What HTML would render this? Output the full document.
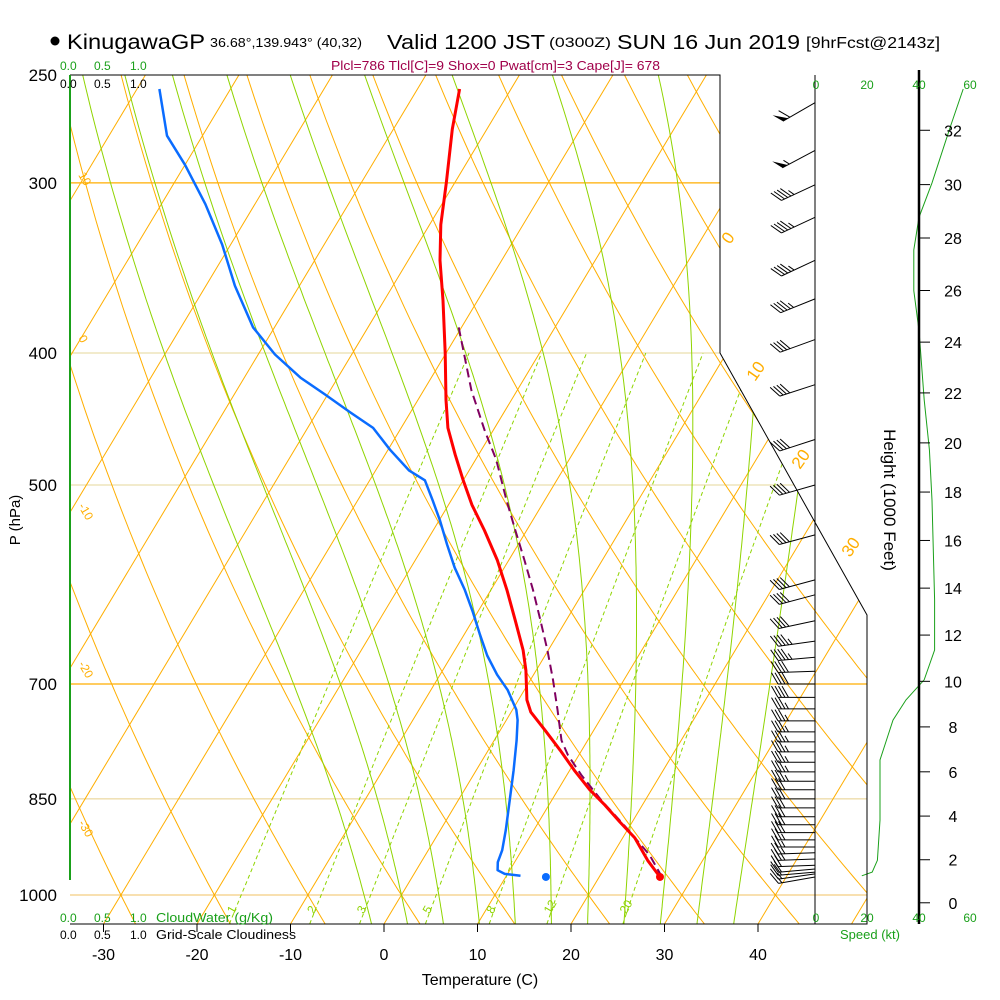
<!DOCTYPE html>
<html><head><meta charset="utf-8">
<style>
html,body{margin:0;padding:0;background:#fff;}
svg{display:block;font-family:"Liberation Sans",sans-serif;}
</style></head>
<body>
<svg id="chart" width="1000" height="1000" viewBox="0 0 1000 1000" xmlns="http://www.w3.org/2000/svg">
<defs><clipPath id="plotclip"><polygon points="70,75 720,75 720,353 867,615 867,924 70,924"/></clipPath></defs>
<g id="bg" clip-path="url(#plotclip)"></g>
<g id="marks"></g>
<g id="axes"></g>
<g>
<circle cx="55" cy="41" r="4.5" fill="#000"/>
<text x="67" y="49" font-size="21" textLength="138" lengthAdjust="spacingAndGlyphs">KinugawaGP</text>
<text x="210" y="47" font-size="13" textLength="152" lengthAdjust="spacingAndGlyphs">36.68°,139.943° (40,32)</text>
<text x="387" y="49" font-size="20" textLength="158" lengthAdjust="spacingAndGlyphs">Valid 1200 JST</text>
<text x="549" y="47" font-size="14" textLength="62" lengthAdjust="spacingAndGlyphs">(0300Z)</text>
<text x="617" y="49" font-size="20" textLength="183" lengthAdjust="spacingAndGlyphs">SUN 16 Jun 2019</text>
<text x="806" y="48" font-size="16" textLength="134" lengthAdjust="spacingAndGlyphs">[9hrFcst@2143z]</text>
<text x="331" y="70" font-size="13" fill="#a0004a" textLength="329" lengthAdjust="spacingAndGlyphs">Plcl=786 Tlcl[C]=9 Shox=0 Pwat[cm]=3 Cape[J]= 678</text>
</g>
<g font-size="12">
<text x="60" y="70" fill="#1aa01a">0.0</text><text x="94" y="70" fill="#1aa01a">0.5</text><text x="130" y="70" fill="#1aa01a">1.0</text>
<text x="60" y="88" fill="#000">0.0</text><text x="94" y="88" fill="#000">0.5</text><text x="130" y="88" fill="#000">1.0</text>
<text x="60" y="922" fill="#1aa01a">0.0</text><text x="94" y="922" fill="#1aa01a">0.5</text><text x="130" y="922" fill="#1aa01a">1.0</text>
<text x="156" y="922" fill="#1aa01a" font-size="13" textLength="117" lengthAdjust="spacingAndGlyphs">CloudWater (g/Kg)</text>
<text x="60" y="939" fill="#000">0.0</text><text x="94" y="939" fill="#000">0.5</text><text x="130" y="939" fill="#000">1.0</text>
<text x="156" y="939" fill="#000" font-size="13" textLength="140" lengthAdjust="spacingAndGlyphs">Grid-Scale Cloudiness</text>
</g>
<g font-size="12" fill="#1aa01a" text-anchor="middle">
<text x="816" y="89">0</text><text x="867" y="89">20</text><text x="919" y="89">40</text><text x="970" y="89">60</text>
<text x="816" y="922">0</text><text x="867" y="922">20</text><text x="919" y="922">40</text><text x="970" y="922">60</text>
<text x="870" y="939" font-size="13">Speed (kt)</text>
</g>
<text x="480" y="985" font-size="16" text-anchor="middle">Temperature (C)</text>
<text transform="translate(20,520) rotate(-90)" font-size="15" text-anchor="middle">P (hPa)</text>
<text transform="translate(884,500) rotate(90)" font-size="17" text-anchor="middle">Height (1000 Feet)</text>
<script>
// ---------- data ----------
const tempP = [256,274,300,322,342,366,400,433,454,475,496,517,540,568,597,628,661,684,719,734,757,783,810,837,859,884,908,943,970];
const tempT = [-45.5,-43.7,-40.9,-38.8,-36.6,-33.7,-30.1,-27.0,-25.0,-22.5,-20.0,-17.5,-14.5,-11.2,-8.3,-5.5,-2.7,-1.1,0.9,2.1,4.8,7.7,10.5,13.4,16.0,18.7,21.3,24.1,26.5];
const dewP = [256,277,291,311,333,357,383,401,417,429,442,454,471,488,496,513,531,553,575,597,620,644,667,689,707,731,744,770,810,852,896,927,946,959,965,968];
const dewT = [-77.6,-73.8,-70.0,-65.3,-60.9,-56.9,-52.3,-48.2,-44.0,-40.3,-36.5,-33.0,-29.8,-26.4,-24.1,-22.0,-19.9,-17.6,-15.3,-12.8,-10.5,-8.3,-6.2,-3.9,-1.8,0.4,1.2,2.4,4.0,5.5,7.0,7.9,8.2,8.7,9.7,11.5];
const parcelP = [970,935,893,852,816,789,770,731,695,661,628,597,568,540,513,479,456,426,383];
const parcelT = [26.7,24.0,19.8,15.3,11.5,8.8,7.2,4.8,2.4,-0.1,-2.8,-5.5,-8.3,-11.2,-14.1,-17.8,-20.9,-24.9,-30.3];
const sfcP = 970, sfcT = 26.5, sfcTd = 14.3;
const windP = [262,284,301,318,342,365,391,422,463,500,544,587,602,629,651,669,685,700,716,730,745,759,772,785,799,812,825,837,850,863,876,888,900,911,922,931,941,951,957,962,965,970];
const windSpd = [60,55,45,45,45,45,40,40,40,40,40,40,40,40,45,45,40,40,40,35,35,35,35,35,35,35,35,30,30,30,30,30,30,25,25,25,25,20,20,20,15,15];
const windDir = [240,242,245,245,245,248,250,252,252,254,255,255,255,258,262,265,268,270,270,270,270,270,270,270,270,270,270,270,270,270,270,270,270,270,270,268,268,268,265,265,262,260];
const spdP = [256,273,300,318,336,360,385,433,471,513,607,661,695,719,744,796,881,943,962,968];
const spdKt = [57,52,45,40,38,38,40,42,44,45,46,46,42,35,30,25,25,24,22,18];
const pTicks = [250,300,400,500,700,850,1000];
const tTicks = [-30,-20,-10,0,10,20,30,40];
const hTicks = [0,2,4,6,8,10,12,14,16,18,20,22,24,26,28,30,32];
const mixRatios = [1,2,3,5,8,12,20];
const mixLabels = ["1","2","3","5","8","12","20"];

const NS='http://www.w3.org/2000/svg';
function Y(p){return 895-591.5*Math.log(1000/p);}
function X(T,p){return 384+9.35*T+0.6*(924-Y(p));}
function el(tag,attrs,parent){const e=document.createElementNS(NS,tag);for(const k in attrs)e.setAttribute(k,attrs[k]);parent.appendChild(e);return e;}
const bg=document.getElementById('bg'),marks=document.getElementById('marks'),axes=document.getElementById('axes');
function pts(arr){return arr.map(a=>a[0].toFixed(1)+','+a[1].toFixed(1)).join(' ');}

[[300,'#ffae00',1.3],[700,'#ffae00',1.3],[400,'#e6d79a',1],[500,'#e6d79a',1],[850,'#e8cf8a',1],[1000,'#f0c060',1]].forEach(a=>{
  const l=el('line',{x1:70,x2:870,y1:Y(a[0]),y2:Y(a[0]),stroke:a[1],'stroke-width':a[2]},bg);
  
  
});
for(let T=-130;T<=50;T+=10){
  const l=el('line',{x1:X(T,1050),y1:Y(1050),x2:X(T,240),y2:Y(240),stroke:'#ffae00','stroke-width':1},bg);
  
  
}
for(let th=-60;th<=200;th+=10){
  const a=[];for(let p=1050;p>=240;p-=10){const T=(th+273.15)*Math.pow(p/1000,0.2857)-273.15;a.push([X(T,p),Y(p)]);}
  const l=el('polyline',{points:pts(a),fill:'none',stroke:'#ffae00','stroke-width':1},bg);
  
  
}
function es(T){return 6.112*Math.exp(17.67*T/(T+243.5));}
for(let T0=-4;T0<=36;T0+=4){
  let T=T0+273.15;const a=[];
  let Tk=T;const down=[];for(let p=1000;p<=1050;p+=5){down.push([p,Tk]);const e=es(Tk-273.15),rs=0.622*e/(p-e);const d=(287*Tk+2.5e6*rs)/(p*(1004+2.5e6*2.5e6*rs*0.622/(287*Tk*Tk)));Tk+=d*5;}
  down.reverse().forEach(q=>a.push([X(q[1]-273.15,q[0]),Y(q[0])]));
  Tk=T;for(let p=1000;p>=240;p-=5){const e=es(Tk-273.15),rs=0.622*e/(p-e);const d=(287*Tk+2.5e6*rs)/(p*(1004+2.5e6*2.5e6*rs*0.622/(287*Tk*Tk)));a.push([X(Tk-273.15,p),Y(p)]);Tk-=d*5;}
  const l=el('polyline',{points:pts(a),fill:'none',stroke:'#8fd400','stroke-width':1},bg);
  
  
}
mixRatios.forEach((w,i)=>{
  const a=[];for(let p=1050;p>=400;p-=10){const e=w*p/(622+w),L=Math.log(e/6.112),Td=243.5*L/(17.67-L);a.push([X(Td,p),Y(p)]);}
  const l=el('polyline',{points:pts(a),fill:'none',stroke:'#8fd400','stroke-width':1,'stroke-dasharray':'4,3'},bg);
  
  
  const e=w*1030/(622+w),L=Math.log(e/6.112),Td=243.5*L/(17.67-L);
  const t=el('text',{x:X(Td,1030)-4,y:Y(1030)+4,'font-size':12,fill:'#8fd400',transform:'rotate(-60 '+(X(Td,1030)-4)+' '+Y(1030)+')'},axes);
  t.textContent=mixLabels[i];
  
  
});
[["10",78,175],["0",78,338],["-10",78,506],["-20",78,664],["-30",78,823],["0",730,245],["10",755,382],["20",800,470],["30",850,558]].forEach(a=>{
  const t=el('text',{x:a[1],y:a[2],'font-size':a[1]>700?17:12,fill:'#ffae00',transform:'rotate('+(a[1]>700?-55:60)+' '+a[1]+' '+a[2]+')'},axes);
  t.textContent=a[0];
  
  
});
const fr=el('polyline',{points:'70,75 720,75 720,353 867,615 867,924 70,924',fill:'none',stroke:'#000','stroke-width':1},axes);


const cw=el('line',{x1:70,y1:75,x2:70,y2:880,stroke:'#1aa01a','stroke-width':2},axes);


const ba=el('line',{x1:815,y1:75,x2:815,y2:924,stroke:'#000','stroke-width':1},axes);


const ha=el('line',{x1:919,y1:70,x2:919,y2:924,stroke:'#000','stroke-width':2.5},axes);


pTicks.forEach(p=>{
  const t=el('text',{x:57,y:Y(p)+6,'font-size':17,'text-anchor':'end'},axes);
  t.textContent=p;
  
  
});
tTicks.forEach(T=>{
  const x=384+9.35*T;
  const l=el('line',{x1:x,x2:x,y1:924,y2:932,stroke:'#000'},axes);
  
  
  const t=el('text',{x:x,y:960,'font-size':16,'text-anchor':'middle'},axes);
  t.textContent=T;
  
  
});
hTicks.forEach(h=>{
  const p=1013.25*Math.pow(1-6.8756e-6*h*1000,5.2559),y=Y(p);
  const l=el('line',{x1:919,x2:930,y1:y,y2:y,stroke:'#000'},axes);
  
  
  const t=el('text',{x:953,y:y+6,'font-size':16,'text-anchor':'middle'},axes);
  t.textContent=h;
  
  
});
const sp=el('polyline',{points:pts(spdP.map((p,i)=>[815+2.6*spdKt[i],Y(p)])),fill:'none',stroke:'#1aa01a','stroke-width':1},marks);


const pc=el('polyline',{points:pts(parcelP.map((p,i)=>[X(parcelT[i],p),Y(p)])),fill:'none',stroke:'#800060','stroke-width':2,'stroke-dasharray':'9,5'},marks);


const dl=el('polyline',{points:pts(dewP.map((p,i)=>[X(dewT[i],p),Y(p)])),fill:'none',stroke:'#0a6cff','stroke-width':2.5,'stroke-linejoin':'round'},marks);


const tl=el('polyline',{points:pts(tempP.map((p,i)=>[X(tempT[i],p),Y(p)])),fill:'none',stroke:'#ff0000','stroke-width':3,'stroke-linejoin':'round'},marks);


const sd=el('circle',{cx:X(sfcT,sfcP),cy:Y(sfcP),r:4,fill:'#ff0000'},marks);


const sdd=el('circle',{cx:X(sfcTd,sfcP),cy:Y(sfcP),r:4,fill:'#0a6cff'},marks);


windP.forEach((p,i)=>{
  const g=el('g',{},marks);
  
  
  const d=windDir[i]*Math.PI/180,ux=Math.sin(d),uy=-Math.cos(d),L=37;
  const x0=815,y0=Y(p),x1=x0+ux*L,y1=y0+uy*L;
  el('line',{x1:x0,y1:y0,x2:x1,y2:y1,stroke:'#000','stroke-width':1},g);
  const c=Math.cos(Math.PI/3),s=Math.sin(Math.PI/3);
  const fx=ux*c-uy*s,fy=ux*s+uy*c;
  let spd=windSpd[i],pos=0;
  while(spd>=50){const bx=x1-ux*pos,by=y1-uy*pos,cx2=x1-ux*(pos+6),cy2=y1-uy*(pos+6);
    el('polygon',{points:pts([[bx,by],[cx2,cy2],[bx+fx*12,by+fy*12]]),fill:'#000'},g);spd-=50;pos+=8;}
  while(spd>=10){const bx=x1-ux*pos,by=y1-uy*pos;el('line',{x1:bx,y1:by,x2:bx+fx*13,y2:by+fy*13,stroke:'#000','stroke-width':1},g);spd-=10;pos+=3.5;}
  if(spd>=5){if(pos===0)pos=3.5;const bx=x1-ux*pos,by=y1-uy*pos;el('line',{x1:bx,y1:by,x2:bx+fx*7,y2:by+fy*7,stroke:'#000','stroke-width':1},g);}
});
</script>
</svg>
</body></html>
